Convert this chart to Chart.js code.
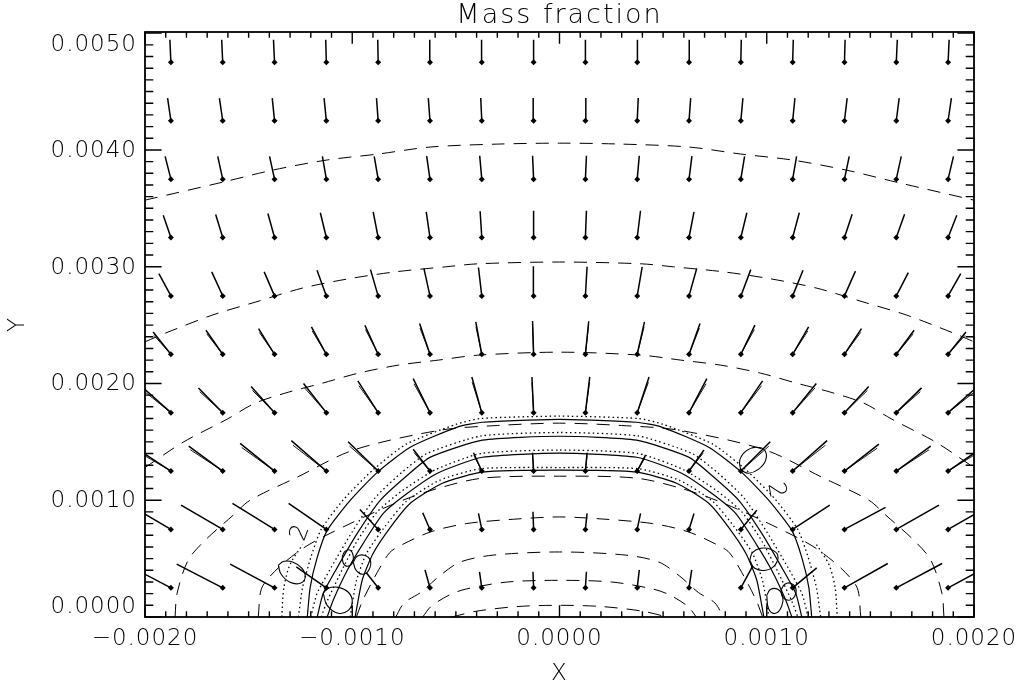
<!DOCTYPE html>
<html>
<head>
<title>Mass fraction</title>
<script src="https://cdn.jsdelivr.net/npm/chart.js"></script>
<style>
  body { margin: 0; background: #fff; }
</style>
</head>
<body>
<canvas id="massChart" width="1021" height="688"></canvas>
<script>
// axis ranges and tick labels
const xRange = [-0.002, 0.002];
const yRange = [0, 0.00501];
const yTickValues = [0, 0.001, 0.002, 0.003, 0.004, 0.005];
const yTickLabels = ['0.0000', '0.0010', '0.0020', '0.0030', '0.0040', '0.0050'];

// velocity grid (arrow base points)
const colX = [-0.001875, -0.001625, -0.001375, -0.001125, -0.000875, -0.000625, -0.000375, -0.000125,
              0.000125, 0.000375, 0.000625, 0.000875, 0.001125, 0.001375, 0.001625, 0.001875];
const rowY = [0.00025, 0.00075, 0.00125, 0.00175, 0.00225, 0.00275, 0.00325, 0.00375, 0.00425, 0.00475];

// vector offsets, units of 1e-5, rows bottom -> top
const vecU = [
  [-22.2, -22.2, -21.4, -14.5, -5.7, -2.4, -1.1, -0.3, 0.5, 1.0, 1.3, 5.7, 11.6, 20.9, 22.1, 21.7],
  [-20.3, -20.1, -20.3, -18.2, -8.8, -3.5, -1.6, -0.3, 0.8, 1.6, 2.4, 7.7, 17.9, 19.8, 20.6, 20.3],
  [-16.9, -16.4, -16.6, -16.9, -14.5, -8.1, -4.0, -0.5, 0.8, 4.0, 7.2, 14.2, 16.6, 16.6, 16.6, 16.9],
  [-12.8, -11.7, -11.3, -11.0, -9.8, -8.1, -4.8, -0.8, 2.1, 5.7, 8.6, 10.5, 11.4, 11.7, 12.2, 12.6],
  [-8.6, -8.1, -7.7, -7.2, -6.4, -5.0, -2.9, -0.5, 1.6, 3.5, 5.3, 6.8, 7.7, 8.2, 8.6, 8.6],
  [-5.8, -5.3, -5.0, -4.5, -3.7, -2.9, -1.6, -0.1, 0.8, 2.4, 3.7, 4.8, 5.0, 5.3, 5.8, 6.1],
  [-3.7, -3.4, -3.2, -2.9, -2.4, -1.8, -0.8, 0.0, 0.5, 1.6, 2.4, 2.9, 3.2, 3.7, 4.0, 4.2],
  [-2.8, -2.4, -2.4, -1.9, -1.9, -1.6, -1.0, -0.5, 0.5, 1.0, 1.4, 1.8, 1.9, 2.3, 2.4, 2.6],
  [-1.6, -1.6, -1.1, -1.1, -0.8, -0.8, -0.5, -0.2, 0.2, 0.5, 0.8, 1.0, 1.1, 1.3, 1.4, 1.6],
  [-0.5, -0.5, -0.5, -0.3, -0.2, -0.1, -0.1, 0.0, 0.0, 0.1, 0.1, 0.2, 0.3, 0.3, 0.5, 0.5]
];
const vecV = [
  [20.6, 20.3, 20.3, 18.0, 12.9, 15.4, 13.7, 13.7, 13.7, 15.4, 15.4, 18.6, 17.1, 20.8, 20.8, 20.6],
  [21.4, 20.8, 22.3, 22.3, 17.1, 14.3, 13.7, 15.2, 13.7, 13.7, 13.7, 16.5, 20.8, 18.9, 20.8, 20.6],
  [19.7, 21.4, 23.7, 26.0, 25.1, 18.6, 15.7, 15.7, 15.7, 13.7, 18.0, 25.1, 26.0, 23.1, 21.4, 20.6],
  [20.4, 21.2, 22.5, 24.9, 27.2, 29.1, 30.6, 30.6, 30.6, 30.6, 29.1, 27.2, 24.9, 22.5, 21.2, 19.7],
  [19.1, 20.6, 22.0, 23.4, 24.9, 26.3, 27.7, 28.5, 28.3, 27.7, 26.3, 24.9, 23.4, 22.0, 20.6, 19.1],
  [19.1, 20.6, 20.6, 22.0, 22.5, 23.4, 24.3, 25.4, 24.9, 24.9, 23.4, 22.5, 22.0, 21.2, 20.0, 19.1],
  [19.1, 19.7, 20.6, 21.2, 22.0, 22.0, 22.5, 22.9, 22.9, 22.9, 22.0, 21.2, 21.2, 20.0, 20.0, 19.1],
  [19.5, 19.5, 19.5, 19.5, 19.5, 19.7, 20.0, 20.0, 20.0, 20.0, 19.7, 19.5, 19.5, 19.5, 19.5, 19.5],
  [19.4, 19.4, 19.4, 19.4, 19.4, 19.4, 19.4, 19.4, 19.4, 19.4, 19.4, 19.4, 19.4, 19.4, 19.4, 19.4],
  [19.3, 19.3, 19.3, 19.3, 19.3, 19.3, 19.3, 19.3, 19.3, 19.3, 19.3, 19.3, 19.3, 19.3, 19.3, 19.3]
];

// shorter companion strokes seen in the fans of rows 2-4 (units of 1e-5)
const fanRows = [2, 3, 4];
const fanU = [
  [-16.1, -15.6, -15.8, -16.1, -13.8, -7.7, -3.8, -0.5, 0.8, 3.8, 6.8, 13.5, 15.8, 15.8, 15.8, 16.1],
  [-12.2, -11.1, -10.7, -10.5, -9.3, -7.7, -4.6, -0.8, 2.0, 5.4, 8.2, 10.0, 10.8, 11.1, 11.6, 12.0],
  [-8.2, -7.7, -7.3, -6.8, -6.1, -4.8, -2.8, -0.5, 1.5, 3.3, 5.0, 6.5, 7.3, 7.8, 8.2, 8.2]
];
const fanV = [
  [16.7, 18.2, 20.1, 22.1, 21.3, 15.8, 13.3, 13.3, 13.3, 11.6, 15.3, 21.3, 22.1, 19.6, 18.2, 17.5],
  [17.3, 18.0, 19.1, 21.2, 23.1, 24.7, 26.0, 26.0, 26.0, 26.0, 24.7, 23.1, 21.2, 19.1, 18.0, 16.7],
  [16.2, 17.5, 18.7, 19.9, 21.2, 22.4, 23.5, 24.2, 24.1, 23.5, 22.4, 21.2, 19.9, 18.7, 17.5, 16.2]
];

// dashed contours, left halves [x, y] (picture is mirror symmetric about x = 0)
const dashArc1 = [[-0.002, 0.00357], [-0.001623, 0.003725], [-0.001382, 0.003828], [-0.001121, 0.003914], [-0.000874, 0.003965], [-0.000623, 0.004025], [-0.0003, 0.00405], [0, 0.004058]];
const dashArc2 = [[-0.002, 0.002357], [-0.001903, 0.00243], [-0.001676, 0.002585], [-0.001469, 0.002696], [-0.001242, 0.002816], [-0.001019, 0.002896], [-0.000792, 0.002956], [-0.00055, 0.002999], [-0.000391, 0.003025], [0, 0.00304]];
const dashArc3 = [[-0.002, 0.00128], [-0.001816, 0.001497], [-0.001604, 0.001694], [-0.001469, 0.001831], [-0.001309, 0.001925], [-0.001145, 0.002002], [-0.000971, 0.002088], [-0.000778, 0.002157], [-0.000585, 0.0022], [-0.000396, 0.002242], [0, 0.002268]];
const dashArc4 = [[-0.001855, 0], [-0.001845, 0.000203], [-0.001792, 0.000486], [-0.00171, 0.000657], [-0.001575, 0.000871], [-0.001493, 0.001], [-0.001266, 0.001197], [-0.000995, 0.001429], [-0.000575, 0.0016], [-0.0003, 0.00164], [0, 0.00166]];
const dashArc5 = [[-0.001454, 0], [-0.00143, 0.000272], [-0.001251, 0.000572], [-0.00101, 0.0008], [-0.00077, 0.00099], [-0.00059, 0.0011], [-0.000372, 0.001189], [0, 0.001206]];
const dashArc6 = [[-0.00098, 0], [-0.00095, 0.00014], [-0.00088, 0.00038], [-0.00082, 0.00055], [-0.00077, 0.00061], [-0.00062, 0.00073], [-0.00045, 0.0008], [-0.0002, 0.00084], [0, 0.000857]];
const dashArc7 = [[-0.00079, 0], [-0.00075, 0.00012], [-0.00067, 0.00021], [-0.00058, 0.00035], [-0.00048, 0.00047], [-0.00032, 0.00053], [0, 0.000557]];
const dashArc8 = [[-0.00066, 0], [-0.00062, 0.00009], [-0.00053, 0.00019], [-0.00045, 0.00024], [-0.00025, 0.0003], [0, 0.000314]];
const dashArc9 = [[-0.00052, 0], [-0.0004, 0.00005], [-0.0002, 0.00009], [0, 0.0001]];

// solid mass-fraction contours, left halves
const solidA = [[-0.001217, 0], [-0.001203, 0.000254], [-0.001169, 0.000511], [-0.001121, 0.000742], [-0.00101, 0.000999], [-0.000879, 0.001239], [-0.00072, 0.001454], [-0.000493, 0.001626], [-0.000372, 0.001668], [0, 0.001693]];
const solidB = [[-0.001169, 0], [-0.00114, 0.000203], [-0.001072, 0.000425], [-0.000976, 0.000716], [-0.000865, 0.000999], [-0.000734, 0.001214], [-0.000623, 0.001369], [-0.000372, 0.001514], [0, 0.001548]];
const solidC = [[-0.001121, 0], [-0.001092, 0.000143], [-0.001024, 0.0004], [-0.000947, 0.000631], [-0.00085, 0.000887], [-0.000734, 0.001059], [-0.000589, 0.001231], [-0.000372, 0.001368], [0, 0.001403]];
const solidD = [[-0.000986, 0], [-0.000952, 0.000315], [-0.000899, 0.000546], [-0.000816, 0.000768], [-0.00072, 0.000974], [-0.000565, 0.001146], [-0.000372, 0.00124], [0, 0.001257]];

// dotted contours, left halves
const dotA = [[-0.00126, 0], [-0.00124, 0.00025], [-0.0012, 0.00051], [-0.00115, 0.00075], [-0.00104, 0.00101], [-0.0009, 0.00126], [-0.00074, 0.00148], [-0.0005, 0.00165], [-0.00038, 0.0017], [0, 0.00172]];
const dotB = [[-0.0012, 0], [-0.00117, 0.0002], [-0.0011, 0.00043], [-0.001, 0.00073], [-0.00089, 0.00102], [-0.00076, 0.00124], [-0.00064, 0.0014], [-0.00038, 0.00155], [0, 0.00158]];
const dotC = [[-0.00115, 0], [-0.00112, 0.00014], [-0.00105, 0.0004], [-0.00098, 0.00064], [-0.00088, 0.0009], [-0.00076, 0.00108], [-0.0006, 0.00126], [-0.00038, 0.0014], [0, 0.00143]];
const dotD = [[-0.00101, 0], [-0.00098, 0.00031], [-0.00093, 0.00055], [-0.00084, 0.00078], [-0.00074, 0.00099], [-0.00058, 0.00117], [-0.00038, 0.00127], [0, 0.00128]];
const dotE = [[-0.00134, 0], [-0.00133, 0.00025], [-0.0013, 0.00045], [-0.00124, 0.00062]];

// small closed contours (loops)
const loops = [
  [[-0.001357, 0.000443], [-0.001329, 0.000477], [-0.001285, 0.000469], [-0.001242, 0.000417], [-0.001227, 0.00034], [-0.001251, 0.000289], [-0.0013, 0.000297], [-0.001343, 0.000366]],
  [[-0.00114, 0.000203], [-0.001116, 0.000246], [-0.001068, 0.000254], [-0.001019, 0.000212], [-0.001, 0.000135], [-0.001019, 0.000057], [-0.001068, 0.000032], [-0.001121, 0.0001]],
  [[-0.001048, 0.00052], [-0.001034, 0.000563], [-0.00101, 0.000572], [-0.000995, 0.00052], [-0.001, 0.00046], [-0.001024, 0.000434], [-0.001043, 0.00046]],
  [[-0.000995, 0.000469], [-0.000976, 0.00052], [-0.000942, 0.000529], [-0.000913, 0.000486], [-0.000918, 0.000409], [-0.000947, 0.000366], [-0.000981, 0.0004]],
  [[0.000874, 0.001257], [0.00087, 0.001343], [0.000899, 0.00142], [0.000947, 0.001454], [0.00099, 0.001428], [0.000995, 0.001343], [0.000961, 0.001266], [0.000913, 0.001231]],
  [[0.000918, 0.000486], [0.000932, 0.000554], [0.000971, 0.000589], [0.001019, 0.00058], [0.001053, 0.000529], [0.001039, 0.000443], [0.000995, 0.0004], [0.000942, 0.000417]],
  [[0.001, 0.000186], [0.001019, 0.000237], [0.001053, 0.000237], [0.001077, 0.000177], [0.001072, 0.000092], [0.001043, 0.000032], [0.00101, 0.000066]],
  [[0.001068, 0.000229], [0.001087, 0.00028], [0.001116, 0.000289], [0.00114, 0.000246], [0.001135, 0.000177], [0.001106, 0.000143], [0.001077, 0.00017]]
];

// contour labels: [x, y, rotation in degrees]
const contourLabels = [[-0.00125, 0.00072, -70], [0.001043, 0.001086, 80]];

const FONT = "'DejaVu Sans', 'Liberation Sans', sans-serif";

function pts(list) { return list.map(p => ({ x: p[0], y: p[1] })); }

function mirrored(half, joined) {
  const left = pts(half);
  const right = half.slice().reverse().map(p => ({ x: -p[0], y: p[1] }));
  if (joined) return left.concat(right.slice(1));
  return left.concat([{ x: NaN, y: NaN }], right);
}

const arrowData = [];
const fanData = [];
const baseData = [];
rowY.forEach((y, r) => {
  colX.forEach((x, c) => {
    baseData.push({ x: x, y: y });
    arrowData.push({ x: x, y: y });
    arrowData.push({ x: x + vecU[r][c] * 1e-5, y: y + vecV[r][c] * 1e-5 });
    arrowData.push({ x: NaN, y: NaN });
  });
});
fanRows.forEach((r, k) => {
  colX.forEach((x, c) => {
    fanData.push({ x: x, y: rowY[r] });
    fanData.push({ x: x + fanU[k][c] * 1e-5, y: rowY[r] + fanV[k][c] * 1e-5 });
    fanData.push({ x: NaN, y: NaN });
  });
});

function lineSet(data, opts) {
  return Object.assign({
    data: data, showLine: true, pointRadius: 0, borderColor: '#000',
    borderWidth: 1.1, tension: 0.3, fill: false
  }, opts || {});
}

const datasets = [];
datasets.push(lineSet(arrowData, { borderWidth: 1.5, tension: 0 }));
datasets.push(lineSet(fanData, { borderWidth: 0.9, tension: 0 }));
datasets.push({ data: baseData, showLine: false, pointStyle: 'rectRot', pointRadius: 3,
  backgroundColor: '#000', borderColor: '#000', borderWidth: 0 });
[dashArc1, dashArc2, dashArc3, dashArc4, dashArc5, dashArc6, dashArc7, dashArc8, dashArc9].forEach(a => {
  datasets.push(lineSet(mirrored(a, true), { borderDash: [13, 9], borderWidth: 1 }));
});
[solidA, solidB, solidC, solidD].forEach(a => {
  datasets.push(lineSet(mirrored(a, true), { borderWidth: 1.2, tension: 0.2 }));
});
[dotA, dotB, dotC, dotD].forEach(a => {
  datasets.push(lineSet(mirrored(a, true), { borderDash: [1.5, 3], borderWidth: 1.3, tension: 0.2 }));
});
datasets.push(lineSet(mirrored(dotE, false), { borderDash: [1.5, 3], borderWidth: 1.3 }));
loops.forEach(l => {
  const p = pts(l);
  p.push(p[0]);
  datasets.push(lineSet(p, { tension: 0.45, borderWidth: 1.1 }));
});

const idlFrame = {
  id: 'idlFrame',
  beforeUpdate(chart) { chart.ctx.letterSpacing = '1px'; },
  beforeDraw(chart) {
    const ctx = chart.ctx;
    ctx.letterSpacing = '1px';
    ctx.save();
    ctx.fillStyle = '#fff';
    ctx.fillRect(0, 0, chart.width, chart.height);
    ctx.restore();
  },
  afterDraw(chart) {
    const { ctx, chartArea: a, scales } = chart;
    const xs = scales.x, ys = scales.y;
    ctx.save();
    ctx.strokeStyle = '#000';
    ctx.fillStyle = '#000';
    // frame
    ctx.lineWidth = 1.8;
    ctx.strokeRect(a.left, a.top, a.right - a.left, a.bottom - a.top);
    // ticks, pointing inward on all four sides
    ctx.lineWidth = 1.4;
    ctx.beginPath();
    for (let i = 0; i <= 40; i++) {
      const px = xs.getPixelForValue(xRange[0] + i * 0.0001);
      const len = i % 10 === 0 ? 11.7 : 5.8;
      ctx.moveTo(px, a.bottom); ctx.lineTo(px, a.bottom - len);
      ctx.moveTo(px, a.top); ctx.lineTo(px, a.top + len);
    }
    for (let i = 0; i <= 50; i++) {
      const py = ys.getPixelForValue(i * 0.0001);
      const len = i % 10 === 0 ? 16.6 : 8.3;
      ctx.moveTo(a.left, py); ctx.lineTo(a.left + len, py);
      ctx.moveTo(a.right, py); ctx.lineTo(a.right - len, py);
    }
    ctx.stroke();

    // y tick labels, end labels kept inside the axis like IDL does
    ctx.font = '300 23px ' + FONT;
    ctx.letterSpacing = '1px';
    ctx.textAlign = 'right';
    ctx.textBaseline = 'middle';
    yTickValues.forEach((v, i) => {
      let py = ys.getPixelForValue(v) + 1;
      py = Math.max(py, a.top + 13);
      py = Math.min(py, a.bottom - 10);
      ctx.fillText(yTickLabels[i], a.left - 8, py);
    });

    // title
    ctx.font = '300 27px ' + FONT;
    ctx.letterSpacing = '2px';
    ctx.textAlign = 'center';
    ctx.fillText('Mass fraction', (a.left + a.right) / 2, 16);

    // contour labels
    ctx.font = '300 24px ' + FONT;
    ctx.letterSpacing = '0px';
    contourLabels.forEach(l => {
      ctx.save();
      ctx.translate(xs.getPixelForValue(l[0]), ys.getPixelForValue(l[1]));
      ctx.rotate(l[2] * Math.PI / 180);
      ctx.fillText('2', 0, 0);
      ctx.restore();
    });
    ctx.restore();
  }
};

new Chart(document.getElementById('massChart'), {
  type: 'scatter',
  data: { datasets: datasets },
  options: {
    responsive: false,
    animation: false,
    devicePixelRatio: 1,
    events: [],
    layout: { padding: { top: 32, right: 47, left: 0, bottom: 0 } },
    plugins: { legend: { display: false }, tooltip: { enabled: false } },
    scales: {
      x: {
        type: 'linear', min: xRange[0], max: xRange[1],
        grid: { display: false, drawTicks: false },
        border: { display: false },
        ticks: {
          stepSize: 0.001, padding: 8, color: '#000', maxRotation: 0,
          font: { family: FONT, size: 23, weight: '300' },
          callback: v => Math.abs(v) < 1e-12 ? '0.0000' : (v < 0 ? '\u2212' : '') + Math.abs(v).toFixed(4)
        },
        title: { display: true, text: 'X', color: '#000', padding: 0,
          font: { family: FONT, size: 23, weight: '300' } },
        afterFit: s => { s.height = 71; s.paddingLeft = 0; s.paddingRight = 0; }
      },
      y: {
        type: 'linear', min: yRange[0], max: yRange[1],
        grid: { display: false, drawTicks: false },
        border: { display: false },
        ticks: { display: false },
        title: { display: true, text: 'Y', color: '#000', padding: 4,
          font: { family: FONT, size: 23, weight: '300' } },
        afterFit: s => { s.width = 145; }
      }
    }
  },
  plugins: [idlFrame]
});
</script>
</body>
</html>
